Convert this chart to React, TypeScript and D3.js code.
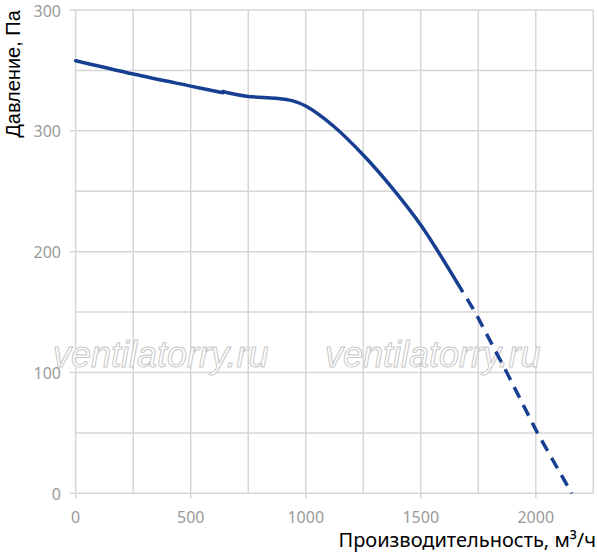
import React from "react";
import * as d3 from "d3";

const W = 597;
const H = 552;

const xTicks = [0, 500, 1000, 1500, 2000];
const xTickLabels = ["0", "500", "1000", "1500", "2000"];
const yTicks = [0, 100, 200, 300, 400];
const yTickLabels = ["0", "100", "200", "300", "300"];
const xGrid = [0, 250, 500, 750, 1000, 1250, 1500, 1750, 2000, 2250];
const yGrid = [0, 50, 100, 150, 200, 250, 300, 350, 400];

const seg1Flow = [0, 250, 500, 640];
const seg1Pressure = [358, 347, 337, 331.5];
const seg2Flow = [640, 660, 750, 870, 940, 1000, 1120, 1250, 1370, 1500, 1656];
const seg2Pressure = [332.6, 331.5, 328.5, 327, 325, 320.5, 304, 280, 254, 222, 175];
const dashFlow = [1656, 1736, 1874, 2007, 2156];
const dashPressure = [175, 150, 100, 50, 0];

const xTitle = "Производительность, м³/ч";
const yTitle = "Давление, Па";
const watermark = "ventilatorry.ru";

export default function App() {
  const x = d3.scaleLinear().domain([0, 2250]).range([75.7, 593.3]);
  const y = d3.scaleLinear().domain([0, 400]).range([493.3, 10]);
  const line = d3
    .line<[number, number]>()
    .x((d) => x(d[0]))
    .y((d) => y(d[1]))
    .curve(d3.curveCatmullRom.alpha(0.5));
  const lineDash = d3
    .line<[number, number]>()
    .x((d) => x(d[0]))
    .y((d) => y(d[1]))
    .curve(d3.curveLinear);
  const s1 = seg1Flow.map((f, i) => [f, seg1Pressure[i]] as [number, number]);
  const s2 = seg2Flow.map((f, i) => [f, seg2Pressure[i]] as [number, number]);
  const s3 = dashFlow.map((f, i) => [f, dashPressure[i]] as [number, number]);
  const grid = "#d6d6d6";
  const lineColor = "#173f91";
  const labelFont = "'Noto Sans', sans-serif";

  return (
    <svg
      width={W}
      height={H}
      style={{ position: "absolute", left: 0, top: 0, background: "#fff" }}
    >
      <rect x={0} y={0} width={W} height={H} fill="#fff" />
      {xGrid.map((v) => (
        <line key={"xg" + v} x1={x(v)} x2={x(v)} y1={y(400)} y2={y(0)} stroke={grid} strokeWidth={1.5} />
      ))}
      {yGrid.map((v) => (
        <line key={"yg" + v} x1={x(0)} x2={x(2250)} y1={y(v)} y2={y(v)} stroke={grid} strokeWidth={1.5} />
      ))}
      {xTicks.map((v) => (
        <line key={"xt" + v} x1={x(v)} x2={x(v)} y1={y(0)} y2={y(0) + 5} stroke={grid} strokeWidth={1.5} />
      ))}
      {yTicks.map((v) => (
        <line key={"yt" + v} x1={x(0) - 6} x2={x(0)} y1={y(v)} y2={y(v)} stroke={grid} strokeWidth={1.5} />
      ))}
      {[53, 325].map((wx) => (
        <text
          key={"wm" + wx}
          x={wx}
          y={367}
          fontFamily="'Liberation Sans', Arial, sans-serif"
          fontStyle="italic"
          fontSize={36}
          fill="#fff"
          stroke="#c8c8c8"
          strokeWidth={1}
        >
          {watermark}
        </text>
      ))}
      <path d={line(s1) || ""} fill="none" stroke={lineColor} strokeWidth={3.5} strokeLinecap="round" />
      <path d={line(s2) || ""} fill="none" stroke={lineColor} strokeWidth={3.5} strokeLinecap="round" />
      <path d={lineDash(s3) || ""} fill="none" stroke={lineColor} strokeWidth={3.5} strokeDasharray="12 8" />
      {xTicks.map((v, i) => (
        <text
          key={"xl" + v}
          x={x(v)}
          y={522.5}
          textAnchor="middle"
          fontFamily={labelFont}
          fontSize={16}
          fill="#9a9a9a"
        >
          {xTickLabels[i]}
        </text>
      ))}
      {yTicks.map((v, i) => (
        <text
          key={"yl" + v}
          x={61}
          y={y(v) + 6.5}
          textAnchor="end"
          fontFamily={labelFont}
          fontSize={16}
          fill="#9a9a9a"
        >
          {yTickLabels[i]}
        </text>
      ))}
      <text
        x={596}
        y={547}
        textAnchor="end"
        fontFamily={labelFont}
        fontSize={20}
        fill="#000"
      >
        {xTitle}
      </text>
      <text
        transform="rotate(-90)"
        x={-74}
        y={19.5}
        textAnchor="middle"
        fontFamily="'Liberation Sans', Arial, sans-serif"
        fontSize={20}
        fill="#000"
      >
        {yTitle}
      </text>
    </svg>
  );
}
